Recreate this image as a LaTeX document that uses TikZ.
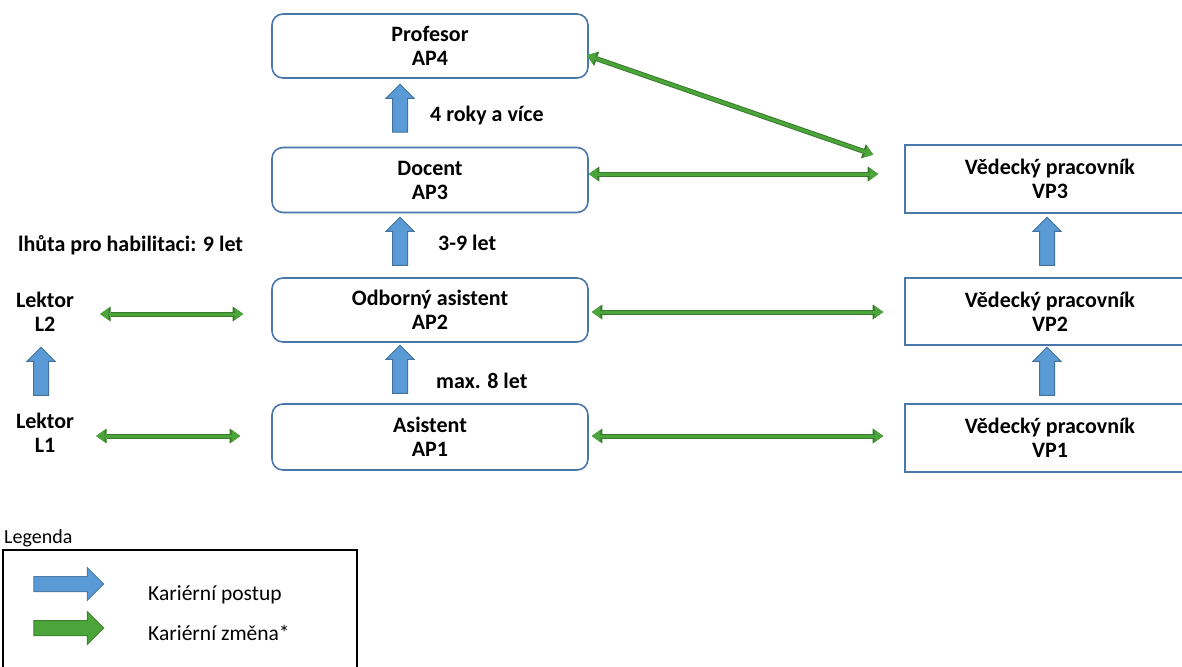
\documentclass[tikz,border=0pt]{standalone}
\usepackage{fontspec}
\setmainfont{Carlito}
\usetikzlibrary{arrows.meta,shapes.arrows,calc}
\definecolor{boxblue}{HTML}{4A78AA}
\definecolor{bfill}{HTML}{5B9BD5}
\definecolor{bdark}{HTML}{41719C}
\definecolor{gfill}{HTML}{4CA53A}
\definecolor{gdark}{HTML}{367A2A}
\tikzset{
  rbox/.style={draw=boxblue, line width=1.6pt, rounded corners=11pt, minimum width=316pt, align=center, inner sep=0pt, font=\fontsize{22}{24}\selectfont\bfseries},
  sbox/.style={draw=boxblue, line width=1.6pt, minimum width=290pt, align=center, inner sep=0pt, font=\fontsize{22}{24}\selectfont\bfseries},
  btext/.style={inner sep=0pt, align=center, font=\fontsize{22}{24}\selectfont\bfseries},
  ltext/.style={inner sep=0pt, anchor=west, font=\fontsize{21.5}{24}\selectfont},
  uparr/.style={single arrow, draw=bdark, fill=bfill, line width=1pt, shape border rotate=90, minimum height=48pt, single arrow head extend=6.5pt, inner sep=7pt},
  legarr/.style={single arrow, draw=#1!80!black, fill=#1, line width=1pt, minimum height=70pt, single arrow head extend=9pt, inner sep=7pt},
  garr/.style={draw=gfill, line width=3pt,
    {Triangle[width=12pt,length=8.5pt,line width=0pt]}-{Triangle[width=12pt,length=8.5pt,line width=0pt]},
    shorten <=1pt, shorten >=1pt,
    preaction={draw=gdark, line width=5pt,
    {Triangle[width=15pt,length=10.5pt,line width=0pt]}-{Triangle[width=15pt,length=10.5pt,line width=0pt]}}}
}
\begin{document}
\begin{tikzpicture}[x=1pt,y=-1pt]
\clip (0,0) rectangle (1182,666);
\fill[white] (0,0) rectangle (1182,666);
% academic boxes
\node[rbox, minimum height=64pt] (prof) at (430,46) {Profesor\\AP4};
\node[rbox, minimum height=65pt] (doc) at (430,180) {Docent\\AP3};
\node[rbox, minimum height=64pt] (ap2) at (430,310) {Odborný asistent\\AP2};
\node[rbox, minimum height=66pt] (ap1) at (430,437) {Asistent\\AP1};
% research boxes
\node[sbox, minimum height=68pt] (vp3) at (1050,179) {Vědecký pracovník\\VP3};
\node[sbox, minimum height=67pt] (vp2) at (1050,311.5) {Vědecký pracovník\\VP2};
\node[sbox, minimum height=68pt] (vp1) at (1050,438) {Vědecký pracovník\\VP1};
% lecturers
\node[btext] (l2) at (45,312) {Lektor\\L2};
\node[btext] (l1) at (45,433) {Lektor\\L1};
% career progression arrows
\node[uparr] (u1) at (400,112) {};
\node[uparr] (u2) at (400,245) {};
\node[uparr] (u3) at (400,373) {};
\node[uparr] (u4) at (1047,245) {};
\node[uparr] (u5) at (1047,375) {};
\node[uparr] (u6) at (41,375) {};
% labels
\node[btext, anchor=west] (t1) at (430,116) {4 roky a více};
\node[btext, anchor=west] (t2) at (438,243) {3-9 let};
\node[btext, anchor=west] (t3) at (436,381) {max. 8 let};
\node[btext, anchor=west] (t4) at (18,245) {lhůta pro habilitaci: 9 let};
% career change arrows
\draw[garr] ([shift={(25,2)}]l2.east) -- ([shift={(-27,2)}]l2.east -| ap2.west);
\draw[garr] ([shift={(21,3)}]l1.east) -- ([shift={(-30,3)}]l1.east -| ap1.west);
\draw[garr] ([shift={(2,2)}]ap2.east) -- ([shift={(-20,2)}]ap2.east -| vp2.west);
\draw[garr] ([shift={(2,-1)}]ap1.east) -- ([shift={(-20,-1)}]ap1.east -| vp1.west);
\draw[garr] ([shift={(-1,-6)}]doc.east) -- ([shift={(-25,-6)}]doc.east -| vp3.west);
\draw[garr] ([shift={(-3,9)}]prof.east) -- ([shift={(-30,-24)}]vp3.west);
% legend
\node[ltext, font=\fontsize{20}{24}\selectfont] (leg) at (4,538) {Legenda};
\draw[line width=1.8pt] (3,550) rectangle (357,700);
\node[legarr=bfill] (lb) at (65,584) {};
\node[legarr=gfill] (lg) at (65,628) {};
\node[ltext] (lbt) at (148,595) {Kariérní postup};
\node[ltext] (lgt) at (148,633) {Kariérní změna*};
\end{tikzpicture}
\end{document}
